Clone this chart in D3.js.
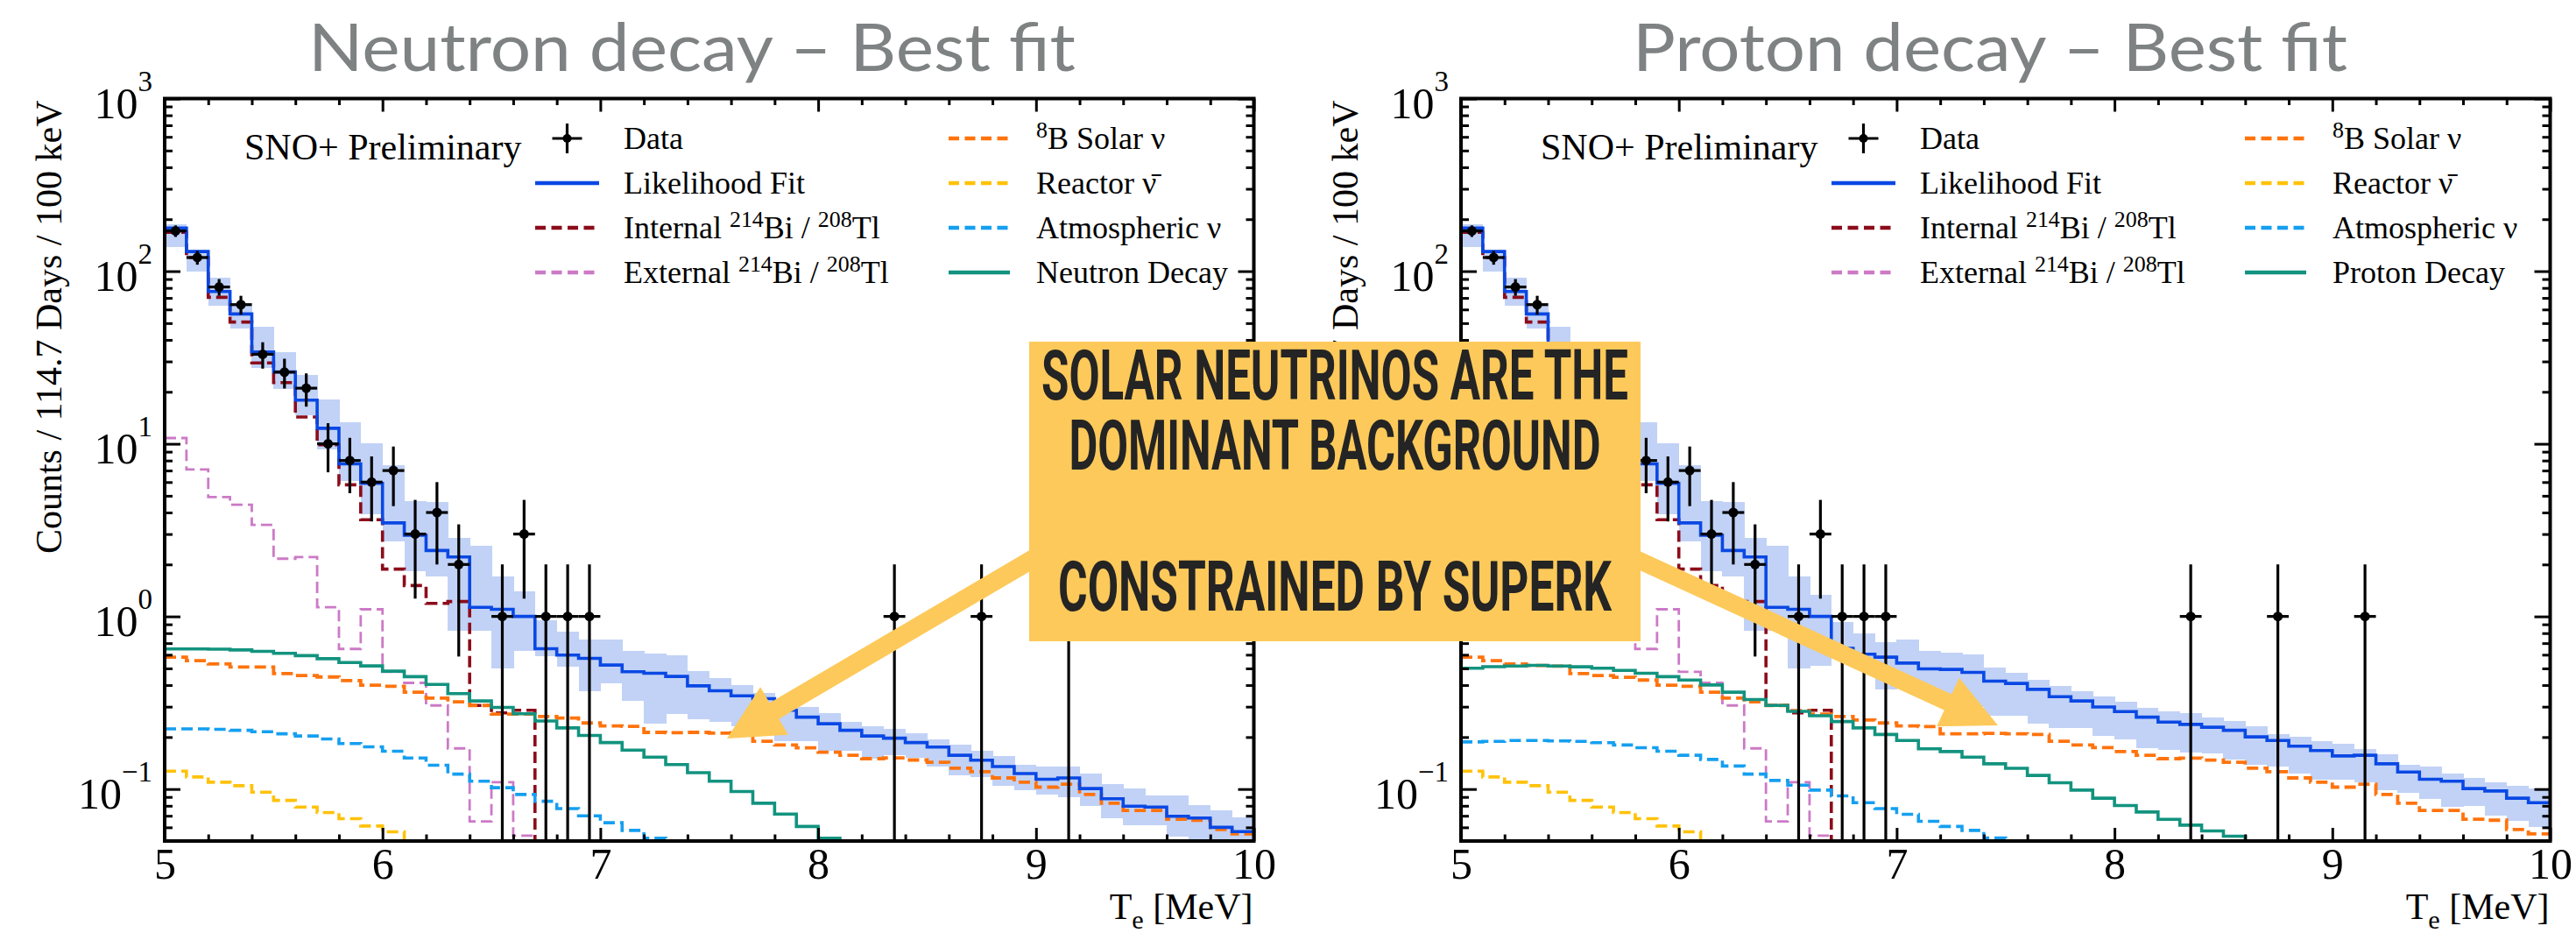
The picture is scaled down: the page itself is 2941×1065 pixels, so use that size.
<!DOCTYPE html>
<html>
<head>
<meta charset="utf-8">
<script src="https://cdn.jsdelivr.net/npm/d3@7"></script>
<style>
  html, body { margin: 0; padding: 0; background: #fff; }
  svg { display: block; }
</style>
</head>
<body>
<svg id="chart" width="2941" height="1065"></svg>
<script>
// ---- Binning: 50 bins of 0.1 MeV between 5 and 10 MeV ----
const E_MIN = 5.0, E_MAX = 10.0, BIN_W = 0.1;

// Observed counts per bin (shared by both fits)
const dataCounts = [171,120,81,64,33,26,21,10,8,6, 7,3,4,2,0,1,3,1,1,1,
                    0,0,0,0,0,0,0,0,0,0, 0,0,0,1,0,0,0,1,0,0,
                    0,1,0,0,0,0,0,0,0,0];

// Background components common to both fits
const internalBiTl = [168,120,70.6,50.7,29.4,22.6,14.3,9.86,5.79,3.63, 1.88,1.51,1.19,1.22,0.305,0.276,0.286,0,0,0,
                      0,0,0,0,0,0,0,0,0,0, 0,0,0,0,0,0,0,0,0,0, 0,0,0,0,0,0,0,0,0,0];
const externalBiTl = [10.8,7.11,4.91,4.44,3.39,2.16,2.21,1.13,0.648,1.10, 0.478,0.412,0.305,0.172,0.065,0.1096,0.0537,0,0,0,
                      0,0,0,0,0,0,0,0,0,0, 0,0,0,0,0,0,0,0,0,0, 0,0,0,0,0,0,0,0,0,0];
const reactorNu   = [0.127,0.1175,0.1096,0.1045,0.096,0.086,0.0787,0.0731,0.0673,0.0611, 0.0565,0,0,0,0,0,0,0,0,0,
                     0,0,0,0,0,0,0,0,0,0, 0,0,0,0,0,0,0,0,0,0, 0,0,0,0,0,0,0,0,0,0];

// Neutron-decay fit
const neutronFit = [178,130,76.3,56.5,34.0,26.1,17.9,12.3,7.65,5.90, 3.48,2.95,2.41,2.21,1.13,1.10,1.0,0.65,0.597,0.572,
                    0.523,0.478,0.469,0.449,0.396,0.371,0.347,0.334,0.286,0.261, 0.239,0.219,0.203,0.197,0.186,0.175,0.157,0.147,0.135,0.123,
                    0.114,0.116,0.1006,0.0878,0.0796,0.0787,0.0695,0.068,0.060,0.0567];
const neutronBandLow  = [138,99.6,62.8,46.5,27.5,20.7,14.7,9.24,6.07,3.92, 2.71,1.82,1.71,0.83,0.83,0.497,0.633,0.588,0.511,0.367,
                         0.412,0.326,0.239,0.272,0.254,0.246,0.230,0.228,0.189,0.189, 0.167,0.167,0.150,0.158,0.151,0.135,0.120,0.1175,0.1045,0.0986,
                         0.093,0.0895,0.0796,0.068,0.0618,0.0618,0.0529,0.048,0.048,0.048];
const neutronBandHigh = [186,134,91.3,65.3,47.8,33.8,25.1,18.1,13.3,10.1, 7.5,4.65,4.58,2.85,2.58,1.70,1.395,0.945,0.818,0.731,
                         0.731,0.633,0.609,0.593,0.482,0.442,0.401,0.361,0.324,0.299, 0.274,0.246,0.232,0.224,0.211,0.195,0.180,0.167,0.1545,0.1375,
                         0.1346,0.1346,0.1223,0.1066,0.1006,0.0913,0.0913,0.0812,0.0751,0.0687];
const neutronSolarB8 = [0.581,0.554,0.531,0.509,0.509,0.467,0.454,0.446,0.425,0.400, 0.394,0.364,0.336,0.320,0.305,0.272,0.272,0.263,0.258,0.2415,
                        0.232,0.2305,0.213,0.212,0.213,0.211,0.212,0.189,0.180,0.1735, 0.1636,0.157,0.150,0.1514,0.1474,0.143,0.132,0.126,0.116,0.1096,
                        0.1026,0.1066,0.093,0.0828,0.0751,0.0751,0.0668,0.066,0.0583,0.055];
const neutronAtmos = [0.223,0.223,0.222,0.219,0.215,0.209,0.203,0.195,0.1835,0.1755, 0.1656,0.1514,0.1374,0.122,0.111,0.1018,0.093,0.085,0.077,0.070,
                      0.0638,0.0576,0.0519,0,0,0,0,0,0,0, 0,0,0,0,0,0,0,0,0,0, 0,0,0,0,0,0,0,0,0,0];
const neutronSignal = [0.648,0.648,0.646,0.640,0.628,0.611,0.593,0.569,0.541,0.517, 0.482,0.448,0.404,0.357,0.324,0.297,0.273,0.248,0.226,0.2045,
                       0.186,0.168,0.153,0.1385,0.1245,0.111,0.0968,0.0828,0.0716,0.0607, 0.0519,0,0,0,0,0,0,0,0,0,
                       0,0,0,0,0,0,0,0,0,0];

// Proton-decay fit
const protonFit = [178,130,76.3,56.5,34.0,26.1,17.9,12.3,7.65,5.90, 3.48,2.95,2.41,2.21,1.13,1.10,1.0,0.653,0.604,0.581,
                   0.537,0.497,0.493,0.474,0.422,0.409,0.378,0.343,0.324,0.299, 0.281,0.261,0.2445,0.237,0.228,0.219,0.2005,0.191,0.177,0.167,
                   0.1555,0.157,0.140,0.1256,0.114,0.111,0.1006,0.0975,0.0885,0.0834];
const protonBandLow  = [138,99.6,62.8,46.5,27.5,20.7,14.7,9.24,6.07,3.92, 2.71,1.82,1.71,0.83,0.83,0.497,0.52,0.60,0.55,0.378,
                        0.42,0.336,0.30,0.30,0.266,0.266,0.239,0.226,0.226,0.203, 0.195,0.1735,0.169,0.1635,0.1605,0.1485,0.1375,0.1346,0.123,0.113,
                        0.113,0.1096,0.0986,0.0948,0.0878,0.0787,0.0796,0.070,0.0655,0.0602];
const protonBandHigh = [186,134,91.3,65.3,47.8,33.8,25.1,18.1,13.3,10.1, 7.5,4.65,4.58,2.85,2.58,1.70,1.34,0.927,0.793,0.706,
                        0.734,0.633,0.616,0.604,0.503,0.469,0.428,0.396,0.369,0.343, 0.321,0.297,0.281,0.275,0.261,0.248,0.230,0.209,0.2005,0.190,
                        0.184,0.171,0.1585,0.1385,0.1346,0.123,0.116,0.1096,0.104,0.1006];
const protonSolarB8 = [0.581,0.554,0.531,0.520,0.515,0.467,0.454,0.444,0.428,0.400, 0.394,0.364,0.336,0.320,0.305,0.285,0.272,0.263,0.251,0.2415,
                       0.232,0.230,0.209,0.209,0.210,0.209,0.207,0.189,0.180,0.174, 0.165,0.157,0.150,0.151,0.147,0.143,0.132,0.126,0.116,0.1096,
                       0.1026,0.1066,0.093,0.0828,0.0751,0.0751,0.0668,0.066,0.0583,0.055];
const protonAtmos = [0.1875,0.189,0.191,0.191,0.190,0.189,0.1855,0.180,0.1735,0.1656, 0.157,0.1484,0.136,0.122,0.1122,0.1054,0.0986,0.0913,0.0834,0.077,
                     0.0714,0.065,0.0607,0.0576,0.052,0,0,0,0,0, 0,0,0,0,0,0,0,0,0,0, 0,0,0,0,0,0,0,0,0,0];
const protonSignal = [0.501,0.512,0.516,0.521,0.516,0.511,0.501,0.487,0.469,0.448, 0.428,0.401,0.364,0.330,0.305,0.282,0.266,0.246,0.226,0.207,
                      0.191,0.171,0.165,0.153,0.140,0.132,0.120,0.1088,0.0986,0.0885, 0.0802,0.0736,0.0668,0.0618,0.0572,0.0533,0,0,0,0,
                      0,0,0,0,0,0,0,0,0,0];

// Axis ticks
const xMajorTicks = [5, 6, 7, 8, 9, 10];
const yDecadeTicks = [0.1, 1, 10, 100, 1000];
const yDecadeLabels = ["\u22121", "0", "1", "2", "3"];

// ---- Layout ----
const PLOT_TOP = 112.5, PLOT_BOTTOM = 960, PLOT_W = 1243.5;
const SERIF = "'Liberation Serif','Times New Roman',serif";
const DASH = "13,6";

const COLORS = {
  fit: "#0a48e4", band: "#c1d2f6", internal: "#8c0c1a", external: "#cc7ac6",
  solar: "#ff730d", reactor: "#ffc20a", atmos: "#159ff0", signal: "#12937f"
};

const panels = [
  { key: "n", x0: 188, title: "Neutron decay \u2013 Best fit", titleX: 352, titleW: 876,
    fit: neutronFit, bandLow: neutronBandLow, bandHigh: neutronBandHigh,
    solar: neutronSolarB8, atmos: neutronAtmos, signal: neutronSignal, signalName: "Neutron Decay" },
  { key: "p", x0: 1668, title: "Proton decay \u2013 Best fit", titleX: 1864, titleW: 816,
    fit: protonFit, bandLow: protonBandLow, bandHigh: protonBandHigh,
    solar: protonSolarB8, atmos: protonAtmos, signal: protonSignal, signalName: "Proton Decay" }
];

const svg = d3.select("#chart");
svg.append("rect").attr("width", 2941).attr("height", 1065).attr("fill", "#fff");
const defs = svg.append("defs");

// text with super/subscript parts
function richText(sel, parts, baseSize) {
  let shift = 0;
  parts.forEach(p => {
    const t = sel.append("tspan").text(p.t);
    const target = p.sup ? -baseSize * 0.36 : (p.sub ? baseSize * 0.25 : 0);
    if (target !== shift) { t.attr("dy", target - shift); shift = target; }
    if (p.sup || p.sub) t.attr("font-size", baseSize * 0.72);
  });
}

function drawPanel(p) {
  const x = d3.scaleLinear().domain([E_MIN, E_MAX]).range([p.x0, p.x0 + PLOT_W]);
  const y = d3.scaleLog().domain([0.05, 1000]).range([PLOT_BOTTOM, PLOT_TOP]);
  const yv = v => (v > 0 ? y(v) : PLOT_BOTTOM + 60);
  const edge = i => x(E_MIN + i * BIN_W);

  const g = svg.append("g");
  const clipId = "clip-" + p.key;
  defs.append("clipPath").attr("id", clipId).append("rect")
    .attr("x", p.x0).attr("y", PLOT_TOP).attr("width", PLOT_W).attr("height", PLOT_BOTTOM - PLOT_TOP);
  const plot = g.append("g").attr("clip-path", `url(#${clipId})`);

  // fit uncertainty band
  plot.append("g").selectAll("rect")
    .data(p.bandLow.map((lo, i) => ({ lo, hi: p.bandHigh[i], i })))
    .join("rect")
    .attr("x", d => edge(d.i)).attr("width", d => edge(d.i + 1) - edge(d.i) + 0.6)
    .attr("y", d => y(d.hi)).attr("height", d => yv(d.lo) - y(d.hi))
    .attr("fill", COLORS.band).attr("shape-rendering", "crispEdges");

  const step = d3.line().curve(d3.curveStepAfter);
  const histPts = vals => vals.map((v, i) => [edge(i), yv(v)]).concat([[edge(vals.length), yv(vals[vals.length - 1])]]);
  const series = [
    { v: externalBiTl, c: COLORS.external, w: 2.8, dash: DASH },
    { v: internalBiTl, c: COLORS.internal, w: 3.6, dash: DASH },
    { v: reactorNu, c: COLORS.reactor, w: 3.6, dash: DASH },
    { v: p.atmos, c: COLORS.atmos, w: 3.6, dash: DASH },
    { v: p.solar, c: COLORS.solar, w: 3.8, dash: DASH },
    { v: p.signal, c: COLORS.signal, w: 3.6, dash: null },
    { v: p.fit, c: COLORS.fit, w: 3.6, dash: null }
  ];
  series.forEach(s => {
    plot.append("path").attr("d", step(histPts(s.v)))
      .attr("fill", "none").attr("stroke", s.c).attr("stroke-width", s.w)
      .attr("stroke-dasharray", s.dash);
  });

  // data points with Poisson errors
  const pts = dataCounts.map((n, i) => ({ n, i })).filter(d => d.n > 0);
  const dg = plot.append("g").attr("stroke", "#000").attr("stroke-width", 3.2);
  pts.forEach(d => {
    const cx = x(E_MIN + (d.i + 0.5) * BIN_W);
    const err = Math.sqrt(d.n);
    dg.append("line").attr("x1", cx).attr("x2", cx).attr("y1", y(d.n + err)).attr("y2", yv(d.n - err));
    dg.append("line").attr("x1", edge(d.i)).attr("x2", edge(d.i + 1)).attr("y1", y(d.n)).attr("y2", y(d.n));
    dg.append("circle").attr("cx", cx).attr("cy", y(d.n)).attr("r", 5.5).attr("fill", "#000").attr("stroke", "none");
  });

  // axes: inward ticks on all four sides
  const xMinor = d3.range(50).map(i => E_MIN + i * 0.2).filter(v => v < E_MAX && Math.abs(v - Math.round(v)) > 1e-6);
  const yMinor = [];
  [-2, -1, 0, 1, 2].forEach(k => [2,3,4,5,6,7,8,9].forEach(m => {
    const v = m * Math.pow(10, k);
    if (v >= 0.05 && v <= 1000) yMinor.push(v);
  }));
  const styleAxis = a => {
    a.select(".domain").remove();
    a.selectAll(".tick line").attr("stroke", "#000").attr("stroke-width", 3);
  };
  g.append("g").attr("transform", `translate(0,${PLOT_BOTTOM})`)
    .call(d3.axisBottom(x).tickValues(xMajorTicks).tickSize(-15).tickPadding(7.5).tickFormat(d3.format("d")))
    .call(styleAxis)
    .call(a => a.selectAll("text").attr("font-family", SERIF).attr("font-size", 50).attr("fill", "#000"));
  g.append("g").attr("transform", `translate(0,${PLOT_BOTTOM})`)
    .call(d3.axisBottom(x).tickValues(xMinor).tickSize(-7.5).tickFormat("")).call(styleAxis);
  g.append("g").attr("transform", `translate(0,${PLOT_TOP})`)
    .call(d3.axisTop(x).tickValues(xMajorTicks).tickSize(-15).tickFormat("")).call(styleAxis);
  g.append("g").attr("transform", `translate(0,${PLOT_TOP})`)
    .call(d3.axisTop(x).tickValues(xMinor).tickSize(-7.5).tickFormat("")).call(styleAxis);
  g.append("g").attr("transform", `translate(${p.x0},0)`)
    .call(d3.axisLeft(y).tickValues(yDecadeTicks).tickSize(-18).tickFormat("")).call(styleAxis);
  g.append("g").attr("transform", `translate(${p.x0},0)`)
    .call(d3.axisLeft(y).tickValues(yMinor).tickSize(-9).tickFormat("")).call(styleAxis);
  g.append("g").attr("transform", `translate(${p.x0 + PLOT_W},0)`)
    .call(d3.axisRight(y).tickValues(yDecadeTicks).tickSize(-18).tickFormat("")).call(styleAxis);
  g.append("g").attr("transform", `translate(${p.x0 + PLOT_W},0)`)
    .call(d3.axisRight(y).tickValues(yMinor).tickSize(-9).tickFormat("")).call(styleAxis);

  // decade labels 10^n
  yDecadeTicks.forEach((v, i) => {
    const t = g.append("text").attr("x", p.x0 - 14).attr("y", y(v) + 22)
      .attr("text-anchor", "end").attr("font-family", SERIF).attr("font-size", 50).attr("fill", "#000");
    t.append("tspan").text("10");
    t.append("tspan").attr("dy", -31).attr("font-size", 33).text(yDecadeLabels[i]);
  });

  // frame
  g.append("rect").attr("x", p.x0).attr("y", PLOT_TOP).attr("width", PLOT_W).attr("height", PLOT_BOTTOM - PLOT_TOP)
    .attr("fill", "none").attr("stroke", "#000").attr("stroke-width", 4);

  // axis titles
  g.append("text").attr("transform", `translate(${p.x0 - 118},${PLOT_TOP + 2}) rotate(-90)`)
    .attr("text-anchor", "end").attr("font-family", SERIF).attr("font-size", 42).attr("fill", "#000")
    .text("Counts / 114.7 Days / 100 keV");
  const xt = g.append("text").attr("x", p.x0 + PLOT_W - 1).attr("y", 1049)
    .attr("text-anchor", "end").attr("font-family", SERIF).attr("font-size", 42).attr("fill", "#000");
  richText(xt, [{ t: "T" }, { t: "e", sub: true }, { t: " [MeV]" }], 42);

  // title
  g.append("text").attr("x", p.titleX).attr("y", 81)
    .attr("font-family", "Lato, 'Open Sans', sans-serif").attr("font-size", 76).attr("fill", "#7f8282")
    .attr("textLength", p.titleW).attr("lengthAdjust", "spacingAndGlyphs")
    .text(p.title);

  // legend
  const lg = g.append("g").attr("font-family", SERIF).attr("fill", "#000");
  lg.append("text").attr("x", p.x0 + 91).attr("y", 182).attr("font-size", 42).text("SNO+ Preliminary");
  const rowY = [158, 209, 260, 311];
  const col1 = { s0: p.x0 + 423, s1: p.x0 + 496, tx: p.x0 + 524 };
  const col2 = { s0: p.x0 + 895, s1: p.x0 + 965, tx: p.x0 + 995 };
  const entries = [
    { col: col1, row: 0, kind: "data", parts: [{ t: "Data" }] },
    { col: col1, row: 1, kind: "line", c: COLORS.fit, parts: [{ t: "Likelihood Fit" }] },
    { col: col1, row: 2, kind: "dash", c: COLORS.internal, parts: [{ t: "Internal " }, { t: "214", sup: true }, { t: "Bi / " }, { t: "208", sup: true }, { t: "Tl" }] },
    { col: col1, row: 3, kind: "dash", c: COLORS.external, parts: [{ t: "External " }, { t: "214", sup: true }, { t: "Bi / " }, { t: "208", sup: true }, { t: "Tl" }] },
    { col: col2, row: 0, kind: "dash", c: COLORS.solar, parts: [{ t: "8", sup: true }, { t: "B Solar \u03bd" }] },
    { col: col2, row: 1, kind: "dash", c: COLORS.reactor, parts: [{ t: "Reactor \u03bd\u0304" }] },
    { col: col2, row: 2, kind: "dash", c: COLORS.atmos, parts: [{ t: "Atmospheric \u03bd" }] },
    { col: col2, row: 3, kind: "line", c: COLORS.signal, parts: [{ t: p.signalName }] }
  ];
  entries.forEach(e => {
    const cy = rowY[e.row];
    if (e.kind === "data") {
      const cx = (e.col.s0 + e.col.s1) / 2;
      lg.append("line").attr("x1", cx).attr("x2", cx).attr("y1", cy - 17).attr("y2", cy + 17).attr("stroke", "#000").attr("stroke-width", 3.2);
      lg.append("line").attr("x1", cx - 17).attr("x2", cx + 17).attr("y1", cy).attr("y2", cy).attr("stroke", "#000").attr("stroke-width", 3.2);
      lg.append("circle").attr("cx", cx).attr("cy", cy).attr("r", 5).attr("fill", "#000");
    } else {
      lg.append("line").attr("x1", e.col.s0).attr("x2", e.col.s1).attr("y1", cy).attr("y2", cy)
        .attr("stroke", e.c).attr("stroke-width", 4.5)
        .attr("stroke-dasharray", e.kind === "dash" ? "12,6.5" : null);
    }
    const t = lg.append("text").attr("x", e.col.tx).attr("y", cy + 12).attr("font-size", 36);
    richText(t, e.parts, 36);
  });
}

panels.forEach(drawPanel);

// ---- Callout with arrows ----
const CALLOUT = "#fdc95a";
const callout = svg.append("g");
function arrow(x0, y0, tip, baseMid, halfW, shaftW) {
  const dx = tip[0] - baseMid[0], dy = tip[1] - baseMid[1];
  const len = Math.hypot(dx, dy);
  const px = -dy / len, py = dx / len;
  callout.append("line").attr("x1", x0).attr("y1", y0).attr("x2", baseMid[0] + dx * 0.1).attr("y2", baseMid[1] + dy * 0.1)
    .attr("stroke", CALLOUT).attr("stroke-width", shaftW);
  callout.append("polygon").attr("fill", CALLOUT)
    .attr("points", [tip, [baseMid[0] + px * halfW, baseMid[1] + py * halfW], [baseMid[0] - px * halfW, baseMid[1] - py * halfW]].map(q => q.join(",")).join(" "));
}
arrow(1300, 567, [830, 843], [884, 811.5], 31.5, 21);
arrow(1800, 607, [2281, 828], [2224, 801.5], 30.5, 20);

callout.append("rect").attr("x", 1175).attr("y", 390).attr("width", 698).attr("height", 342).attr("fill", CALLOUT);
const calloutLines = [
  { t: "SOLAR NEUTRINOS ARE THE", y: 456, w: 670 },
  { t: "DOMINANT BACKGROUND", y: 536, w: 607 },
  { t: "CONSTRAINED BY SUPERK", y: 697, w: 632 }
];
calloutLines.forEach(l => {
  callout.append("text").attr("x", 1524).attr("y", l.y).attr("text-anchor", "middle")
    .attr("font-family", "Roboto, 'Liberation Sans', sans-serif")
    .attr("font-weight", 700).attr("font-size", 80).attr("fill", "#242424")
    .attr("textLength", l.w).attr("lengthAdjust", "spacingAndGlyphs")
    .text(l.t);
});
</script>
</body>
</html>
